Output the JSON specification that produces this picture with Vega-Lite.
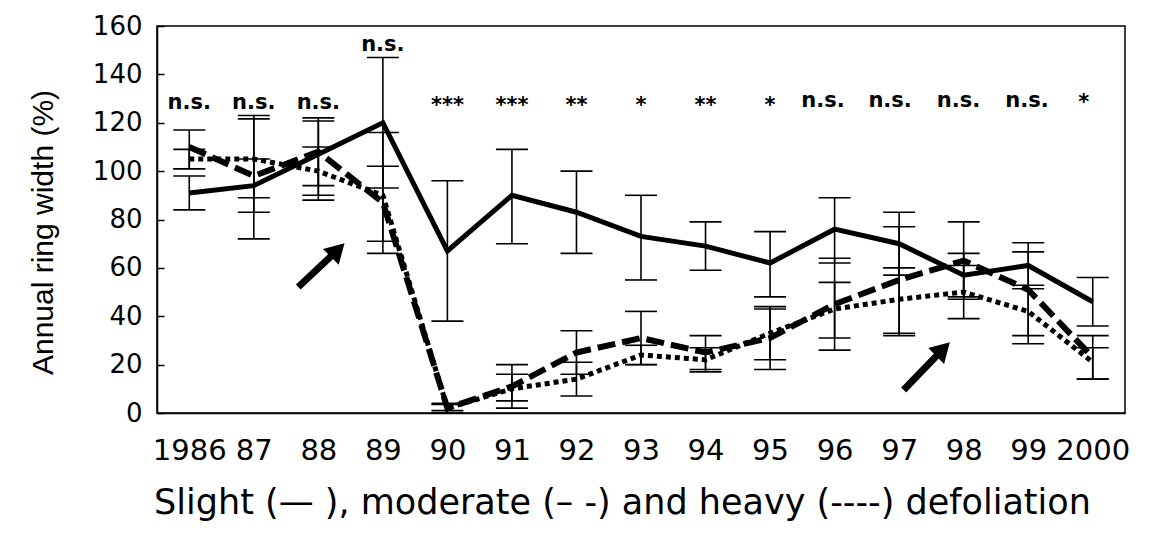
{
  "$schema": "https://vega.github.io/schema/vega-lite/v6.json",
  "autosize": {"type": "none"},
  "width": 968,
  "height": 387,
  "padding": {"left": 157, "top": 26, "right": 34, "bottom": 132},
  "background": "white",
  "config": {
    "view": {"stroke": "black", "strokeWidth": 1.5},
    "font": "DejaVu Sans"
  },
  "datasets": {
    "series": [
      {"year": 1986, "group": "Slight", "value": 91, "lo": 84, "hi": 98},
      {"year": 1987, "group": "Slight", "value": 94, "lo": 83, "hi": 105},
      {"year": 1988, "group": "Slight", "value": 107, "lo": 94, "hi": 120.7},
      {"year": 1989, "group": "Slight", "value": 120, "lo": 93, "hi": 147},
      {"year": 1990, "group": "Slight", "value": 67, "lo": 38, "hi": 96},
      {"year": 1991, "group": "Slight", "value": 90, "lo": 70, "hi": 109},
      {"year": 1992, "group": "Slight", "value": 83, "lo": 66, "hi": 100},
      {"year": 1993, "group": "Slight", "value": 73, "lo": 55, "hi": 90},
      {"year": 1994, "group": "Slight", "value": 69, "lo": 59, "hi": 79},
      {"year": 1995, "group": "Slight", "value": 62, "lo": 48, "hi": 75},
      {"year": 1996, "group": "Slight", "value": 76, "lo": 62, "hi": 89},
      {"year": 1997, "group": "Slight", "value": 70, "lo": 57, "hi": 83},
      {"year": 1998, "group": "Slight", "value": 57, "lo": 48, "hi": 66},
      {"year": 1999, "group": "Slight", "value": 61, "lo": 51.4, "hi": 70.4},
      {"year": 2000, "group": "Slight", "value": 46, "lo": 36, "hi": 56},
      {"year": 1986, "group": "Moderate", "value": 110, "lo": 101, "hi": 117},
      {"year": 1987, "group": "Moderate", "value": 98, "lo": 72, "hi": 123},
      {"year": 1988, "group": "Moderate", "value": 108, "lo": 88, "hi": 122},
      {"year": 1989, "group": "Moderate", "value": 87, "lo": 71, "hi": 102},
      {"year": 1990, "group": "Moderate", "value": 2, "lo": 0, "hi": 4},
      {"year": 1991, "group": "Moderate", "value": 11, "lo": 2, "hi": 20},
      {"year": 1992, "group": "Moderate", "value": 25, "lo": 16, "hi": 34},
      {"year": 1993, "group": "Moderate", "value": 31, "lo": 20, "hi": 42},
      {"year": 1994, "group": "Moderate", "value": 25, "lo": 17, "hi": 32},
      {"year": 1995, "group": "Moderate", "value": 31, "lo": 18, "hi": 44},
      {"year": 1996, "group": "Moderate", "value": 45, "lo": 26, "hi": 64},
      {"year": 1997, "group": "Moderate", "value": 55, "lo": 32, "hi": 77},
      {"year": 1998, "group": "Moderate", "value": 63, "lo": 47, "hi": 79},
      {"year": 1999, "group": "Moderate", "value": 51, "lo": 32, "hi": 66.6},
      {"year": 2000, "group": "Moderate", "value": 23, "lo": 14, "hi": 32},
      {"year": 1986, "group": "Heavy", "value": 105, "lo": 101, "hi": 109},
      {"year": 1987, "group": "Heavy", "value": 105, "lo": 89, "hi": 121.6},
      {"year": 1988, "group": "Heavy", "value": 100, "lo": 90, "hi": 110},
      {"year": 1989, "group": "Heavy", "value": 90, "lo": 66, "hi": 116},
      {"year": 1990, "group": "Heavy", "value": 2, "lo": 1, "hi": 3.5},
      {"year": 1991, "group": "Heavy", "value": 10, "lo": 5, "hi": 16},
      {"year": 1992, "group": "Heavy", "value": 14, "lo": 7, "hi": 21},
      {"year": 1993, "group": "Heavy", "value": 24, "lo": 20, "hi": 28},
      {"year": 1994, "group": "Heavy", "value": 22, "lo": 18, "hi": 27},
      {"year": 1995, "group": "Heavy", "value": 33, "lo": 22, "hi": 43},
      {"year": 1996, "group": "Heavy", "value": 43, "lo": 31, "hi": 54},
      {"year": 1997, "group": "Heavy", "value": 47, "lo": 33, "hi": 60},
      {"year": 1998, "group": "Heavy", "value": 50, "lo": 39, "hi": 61},
      {"year": 1999, "group": "Heavy", "value": 42, "lo": 28.6, "hi": 52.8},
      {"year": 2000, "group": "Heavy", "value": 21, "lo": 14, "hi": 27}
    ],
    "sig": [
      {"x": 1986, "y": 128, "t": "n.s."},
      {"x": 1987, "y": 128, "t": "n.s."},
      {"x": 1988, "y": 128, "t": "n.s."},
      {"x": 1989, "y": 152, "t": "n.s."},
      {"x": 1990, "y": 127, "t": "***"},
      {"x": 1991, "y": 127, "t": "***"},
      {"x": 1992, "y": 127, "t": "**"},
      {"x": 1993, "y": 127, "t": "*"},
      {"x": 1994, "y": 127, "t": "**"},
      {"x": 1995, "y": 127, "t": "*"},
      {"x": 1995.82, "y": 129, "t": "n.s."},
      {"x": 1996.86, "y": 129, "t": "n.s."},
      {"x": 1997.92, "y": 129, "t": "n.s."},
      {"x": 1998.98, "y": 129, "t": "n.s."},
      {"x": 1999.86, "y": 128, "t": "*"}
    ],
    "arrows": [
      {"x": 1987.69, "y": 52.1, "x2": 1988.3, "y2": 67.4},
      {"x": 1997.07, "y": 9.5, "x2": 1997.68, "y2": 26.4}
    ]
  },
  "encoding": {
    "x": {
      "type": "quantitative",
      "scale": {"domain": [1985.5, 2000.5], "nice": false, "zero": false},
      "axis": {
        "values": [1986, 1987, 1988, 1989, 1990, 1991, 1992, 1993, 1994, 1995, 1996, 1997, 1998, 1999, 2000],
        "labelExpr": "(datum.value == 1986 || datum.value == 2000) ? toString(datum.value) : substring(toString(datum.value), 2)",
        "ticks": false,
        "grid": false,
        "domainColor": "black",
        "domainWidth": 1.5,
        "labelFont": "DejaVu Sans",
        "labelFontSize": 29,
        "labelColor": "black",
        "labelPadding": 23,
        "labelFlush": false,
        "labelOverlap": false,
        "title": "Slight (— ), moderate (– -) and heavy (----) defoliation",
        "titleFont": "DejaVu Sans",
        "titleFontSize": 35,
        "titleFontWeight": "normal",
        "titleColor": "black",
        "titlePadding": 20,
        "titleX": 465
      }
    },
    "y": {
      "type": "quantitative",
      "scale": {"domain": [0, 160], "nice": false},
      "axis": {
        "values": [0, 20, 40, 60, 80, 100, 120, 140, 160],
        "grid": false,
        "tickSize": -7,
        "tickColor": "black",
        "tickWidth": 1.5,
        "domainColor": "black",
        "domainWidth": 1.5,
        "labelFont": "DejaVu Sans",
        "labelFontSize": 26,
        "labelColor": "black",
        "labelPadding": 22,
        "labelFlush": false,
        "title": "Annual ring width (%)",
        "titleFont": "Liberation Sans",
        "titleFontSize": 30,
        "titleFontWeight": "normal",
        "titleColor": "black",
        "titlePadding": 34,
        "titleY": 206
      }
    }
  },
  "layer": [
    {
      "data": {"name": "series"},
      "mark": {"type": "rule", "color": "black", "strokeWidth": 1.6},
      "encoding": {
        "x": {"field": "year"},
        "y": {"field": "lo"},
        "y2": {"field": "hi"}
      }
    },
    {
      "data": {"name": "series"},
      "mark": {"type": "tick", "orient": "horizontal", "color": "black", "size": 32, "thickness": 1.6, "opacity": 1},
      "encoding": {
        "x": {"field": "year"},
        "y": {"field": "lo"}
      }
    },
    {
      "data": {"name": "series"},
      "mark": {"type": "tick", "orient": "horizontal", "color": "black", "size": 32, "thickness": 1.6, "opacity": 1},
      "encoding": {
        "x": {"field": "year"},
        "y": {"field": "hi"}
      }
    },
    {
      "data": {"name": "series"},
      "transform": [{"filter": "datum.group == 'Heavy'"}],
      "mark": {"type": "line", "color": "black", "strokeWidth": 5, "strokeDash": [5, 4]},
      "encoding": {
        "x": {"field": "year"},
        "y": {"field": "value"}
      }
    },
    {
      "data": {"name": "series"},
      "transform": [{"filter": "datum.group == 'Moderate'"}],
      "mark": {"type": "line", "color": "black", "strokeWidth": 6, "strokeDash": [18, 7]},
      "encoding": {
        "x": {"field": "year"},
        "y": {"field": "value"}
      }
    },
    {
      "data": {"name": "series"},
      "transform": [{"filter": "datum.group == 'Slight'"}],
      "mark": {"type": "line", "color": "black", "strokeWidth": 5},
      "encoding": {
        "x": {"field": "year"},
        "y": {"field": "value"}
      }
    },
    {
      "data": {"name": "sig"},
      "mark": {"type": "text", "font": "DejaVu Sans", "fontSize": 21, "fontWeight": "bold", "color": "black", "baseline": "middle", "align": "center"},
      "encoding": {
        "x": {"field": "x"},
        "y": {"field": "y"},
        "text": {"field": "t"}
      }
    },
    {
      "data": {"name": "arrows"},
      "mark": {"type": "rule", "color": "black", "strokeWidth": 7},
      "encoding": {
        "x": {"field": "x"},
        "y": {"field": "y"},
        "x2": {"field": "x2"},
        "y2": {"field": "y2"}
      }
    },
    {
      "data": {"name": "arrows"},
      "mark": {"type": "point", "shape": "triangle-up", "filled": true, "color": "black", "opacity": 1, "size": 500, "angle": 45},
      "encoding": {
        "x": {"field": "x2"},
        "y": {"field": "y2"}
      }
    }
  ]
}
